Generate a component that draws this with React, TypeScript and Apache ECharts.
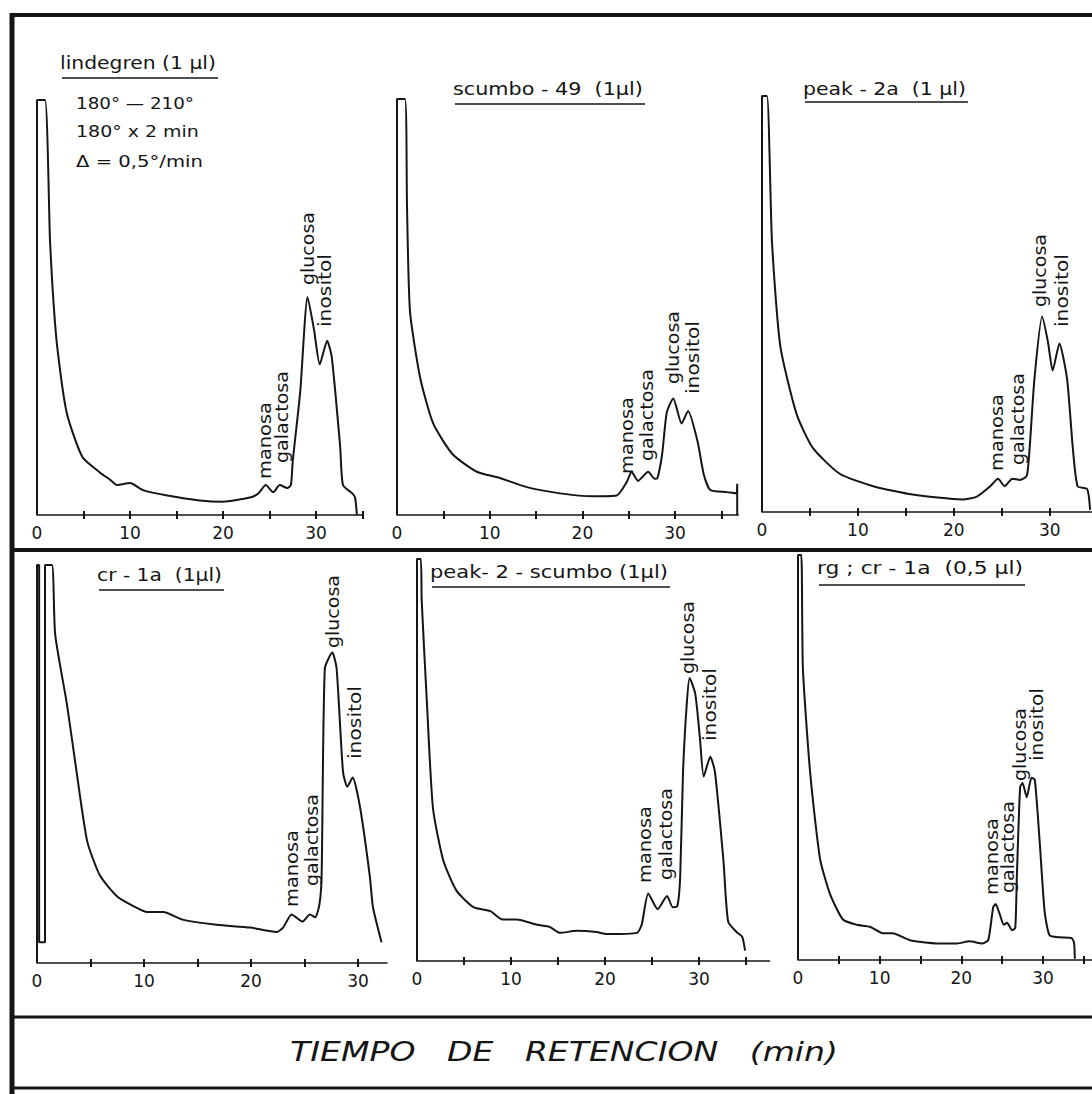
import React, { useEffect, useRef } from "react";
import * as echarts from "echarts";

// ---------- data (retention time in min, detector signal in % of full scale) ----------
const lindegrenTime = [0, 0, 0.86, 1.4, 1.7, 2.15, 3.2, 4.9, 6.8, 7.85, 8.6, 10, 11.4, 14, 17.5, 20, 22.9, 23.8, 24.6, 25.4, 26.1, 26.9, 27.3, 27.5, 28.3, 29.1, 29.8, 30.4, 31.2, 31.7, 32.6, 32.9, 33.9, 34.2, 34.4];
const lindegrenSignal = [0, 100, 100, 66, 53.7, 41, 24.6, 13.9, 10.2, 8.5, 7.2, 7.7, 6, 4.7, 3.5, 3.2, 4.2, 5.2, 7.2, 5.5, 7.2, 6.5, 7.2, 13, 29.6, 52.5, 44.5, 36.3, 42, 38, 16.4, 7.2, 5.2, 4.2, 0];

const scumboTime = [0, 0, 0.86, 1.08, 1.4, 2.5, 3.9, 6.0, 8.6, 11.1, 14, 17.6, 21.1, 23.7, 24.8, 25.3, 26, 27.1, 27.8, 28.1, 28.6, 29.1, 29.8, 30.7, 31.4, 32.4, 33.1, 33.8, 35.6, 36.6, 36.7, 36.7];
const scumboSignal = [0, 100, 100, 74, 49, 33, 22, 14.6, 10.4, 8.9, 6.7, 5.2, 4.5, 4.7, 8, 10.4, 8.2, 10.4, 8.7, 8.9, 14.6, 24.6, 28, 22, 25, 17.9, 9.7, 6, 5.5, 5.2, 7.5, 0];

const peak2aTime = [0, 0, 0.52, 1.04, 1.9, 3.6, 5.3, 8.1, 11.6, 15.7, 20.9, 22.4, 23.8, 24.6, 25.3, 26.1, 26.9, 27.6, 27.9, 28.4, 29.2, 29.8, 30.3, 31, 31.8, 32.4, 32.9, 33.9, 34.2];
const peak2aSignal = [0, 100, 100, 65, 40, 23.6, 15.4, 9.2, 6.2, 4.2, 3, 3.7, 6.2, 8, 6.2, 8, 7.7, 8.7, 15.4, 32, 47, 41, 34, 40.5, 32, 15.4, 6.2, 5.5, 0.5];

const cr1aTime = [0, 0, 0.2, 0.2, 0.75, 0.75, 1.4, 1.7, 2.8, 3.7, 4.7, 5.9, 7.5, 9, 10.3, 11.8, 13.6, 16.8, 19.9, 22.4, 23, 23.8, 24.8, 25.5, 26, 26.4, 26.6, 26.9, 27.6, 28, 28.6, 29, 29.5, 30.2, 31.1, 31.4, 32.2];
const cr1aSignal = [0, 100, 100, 5.2, 5.2, 100, 100, 82.5, 65, 48, 30.5, 21.9, 16.7, 14.3, 12.8, 12.8, 10.9, 9.6, 8.9, 7.8, 8.9, 12.2, 10.4, 12.2, 11.5, 14.8, 21.9, 74, 78, 74, 48, 44.3, 46.6, 39, 21.9, 14, 5.2];

const peak2ScumboTime = [0, 0, 0.4, 0.5, 1.06, 1.7, 2.8, 4.2, 6, 7.8, 9.1, 10.6, 12.8, 14.1, 15.2, 17, 19.1, 20.2, 23.4, 23.9, 24.6, 25.6, 26.6, 27.2, 27.7, 28, 28.3, 28.7, 29, 29.6, 30.1, 30.5, 31.2, 31.7, 32.6, 33.1, 34, 34.6, 34.9];
const peak2ScumboSignal = [0, 100, 100, 89.7, 64, 38, 25, 17.5, 13.4, 12.4, 10.3, 10.3, 9, 8.5, 7, 7.5, 7.2, 6.7, 7, 9, 16.8, 12.9, 16.2, 13.4, 13.7, 21, 47, 64, 70.4, 66.5, 55.4, 45.9, 50.8, 47, 25, 9.8, 7.2, 6, 2.6];

const rgCr1aTime = [0, 0, 0.4, 0.6, 1.5, 2.7, 3.9, 5.5, 7.2, 8.8, 10.4, 11.6, 13.7, 17, 19.5, 21, 22.6, 23.3, 23.9, 24.2, 24.7, 25.2, 25.6, 26.2, 26.6, 26.8, 27.2, 27.5, 28, 28.6, 29, 29.6, 30.2, 30.8, 32, 33.5, 33.8, 33.9];
const rgCr1aSignal = [0, 100, 100, 72, 46, 25, 16.4, 10, 8.7, 8.2, 6.6, 6.6, 4.9, 4.1, 4.1, 4.6, 4.1, 4.9, 13, 13.8, 11.3, 8.7, 9.2, 7.4, 7.9, 20.7, 42.7, 43.7, 40.2, 45, 44.5, 29, 12, 6.1, 5.6, 5.4, 4.3, 0.3];

const tickLabelValues = [0, 10, 20, 30];
const tickMarkValues = [5, 10, 15, 20, 25, 30, 35];
const peakNames = ["manosa", "galactosa", "glucosa", "inositol"];
const panelTitles = [
  "lindegren (1 μl)",
  "scumbo - 49  (1μl)",
  "peak - 2a  (1 μl)",
  "cr - 1a  (1μl)",
  "peak- 2 - scumbo (1μl)",
  "rg ; cr - 1a  (0,5 μl)",
];
const conditionLines = ["180° — 210°", "180° x 2 min", "Δ = 0,5°/min"];
const axisTitle = "TIEMPO   DE   RETENCION   (min)";

const seriesTimes = [lindegrenTime, scumboTime, peak2aTime, cr1aTime, peak2ScumboTime, rgCr1aTime];
const seriesSignals = [lindegrenSignal, scumboSignal, peak2aSignal, cr1aSignal, peak2ScumboSignal, rgCr1aSignal];

// ---------- layout ----------
const INK = "#151515";
const FAMILY = "'DejaVu Sans', sans-serif";

// title: [x1, yText, x2 (underline end / text end), yUnderline]
const panels = [
  { left: 37, top: 100, axisY: 515, scale: 9.3, max: 35, title: [60, 63, 218, 78], labels: [[265, 479], [282, 463], [308, 285], [325, 327]] },
  { left: 397, top: 99, axisY: 515, scale: 9.27, max: 36.8, title: [453, 89, 645, 104], labels: [[627, 474], [647, 461], [673, 384], [693, 394]] },
  { left: 762, top: 96, axisY: 512, scale: 9.6, max: 34.4, title: [803, 89, 968, 102], labels: [[997, 471], [1018, 465], [1040, 307], [1062, 327]] },
  { left: 37, top: 565, axisY: 963, scale: 10.7, max: 32.7, title: [97, 575, 224, 590], labels: [[292, 907], [312, 886], [333, 648], [355, 759]] },
  { left: 417, top: 559, axisY: 961, scale: 9.4, max: 37.5, title: [430, 572, 670, 587], labels: [[645, 883], [666, 880], [688, 674], [710, 741]] },
  { left: 798, top: 555, axisY: 960, scale: 8.17, max: 36, title: [817, 568, 1025, 585], labels: [[992, 895], [1008, 893], [1020, 781], [1037, 761]] },
];
const peakLabelLengths = [77, 92, 73, 73];
const conditionWidths = [118, 123, 127];

export default function App() {
  const ref = useRef<HTMLDivElement>(null);

  useEffect(() => {
    document.body.style.margin = "0";
    const chart = echarts.init(ref.current!, undefined, { renderer: "svg" });

    const ctx = document.createElement("canvas").getContext("2d")!;
    const measure = (text: string, font: string) => {
      ctx.font = font;
      return ctx.measureText(text).width || 1;
    };

    const grids = panels.map((p) => ({
      left: p.left,
      top: p.top,
      width: p.max * p.scale,
      height: p.axisY - p.top,
      containLabel: false,
    }));

    const mainX = panels.map((p, i) => ({
      gridIndex: i,
      type: "value",
      min: 0,
      max: p.max,
      interval: 5,
      axisLine: { show: true, onZero: false, lineStyle: { color: INK, width: 1.6 } },
      axisTick: {
        show: true,
        length: 4,
        customValues: tickMarkValues.filter((v) => v <= p.max),
        lineStyle: { color: INK, width: 2 },
      },
      axisLabel: {
        customValues: tickLabelValues,
        color: INK,
        fontSize: 17,
        fontFamily: FAMILY,
        margin: 9,
      },
      splitLine: { show: false },
    }));
    const innerX = panels.map((p, i) => ({
      gridIndex: i,
      type: "value",
      position: "bottom",
      min: 0,
      max: p.max,
      interval: 5,
      axisLine: { show: false },
      axisTick: {
        show: true,
        inside: true,
        length: 4,
        customValues: tickMarkValues.filter((v) => v <= p.max),
        lineStyle: { color: INK, width: 2 },
      },
      axisLabel: { show: false },
      splitLine: { show: false },
    }));

    const yAxes = panels.map((_, i) => ({
      gridIndex: i,
      type: "value",
      min: 0,
      max: 100,
      show: false,
    }));

    const series = panels.map((_, i) => ({
      type: "line",
      xAxisIndex: i,
      yAxisIndex: i,
      data: seriesTimes[i].map((t, j) => [t, seriesSignals[i][j]]),
      showSymbol: false,
      symbol: "none",
      smooth: 0.2,
      clip: false,
      lineStyle: { color: INK, width: 2 },
    }));

    const graphic: any[] = [];
    const line = (x1: number, y1: number, x2: number, y2: number, w: number) =>
      graphic.push({ type: "line", shape: { x1, y1, x2, y2 }, style: { stroke: INK, lineWidth: w } });
    const text = (
      t: string,
      x: number,
      y: number,
      font: string,
      width: number,
      opts: any = {}
    ) => {
      const sx = width / measure(t, font);
      graphic.push({
        type: "text",
        x,
        y,
        scaleX: sx,
        rotation: opts.rotation || 0,
        style: {
          text: t,
          fill: INK,
          font,
          textAlign: opts.align || "left",
          textVerticalAlign: "middle",
        },
      });
    };

    // frame
    line(11, 15, 1092, 15, 4);
    line(12, 13, 12, 1094, 5);
    line(12, 550, 1092, 550, 4);
    line(12, 1017, 1092, 1017, 3);
    line(12, 1088, 1092, 1088, 3);

    panels.forEach((p, i) => {
      const [tx1, ty, tx2, uy] = p.title;
      text(panelTitles[i], tx1, ty, `17px ${FAMILY}`, tx2 - tx1 - 2);
      line(tx1 + 2, uy, tx2, uy, 1.5);
      p.labels.forEach(([lx, ly], k) => {
        text(peakNames[k], lx, ly, `17px ${FAMILY}`, peakLabelLengths[k], { rotation: Math.PI / 2 });
      });
    });

    conditionLines.forEach((t, k) => {
      text(t, 76, 103 + k * 29, `16px ${FAMILY}`, conditionWidths[k]);
    });

    text(axisTitle, 564, 1052, `italic 27px ${FAMILY}`, 548, { align: "center" });

    chart.setOption({
      animation: false,
      backgroundColor: "#ffffff",
      grid: grids,
      xAxis: [...mainX, ...innerX],
      yAxis: yAxes,
      series,
      graphic,
    });

    return () => chart.dispose();
  }, []);

  return <div ref={ref} style={{ width: 1092, height: 1094 }} />;
}
